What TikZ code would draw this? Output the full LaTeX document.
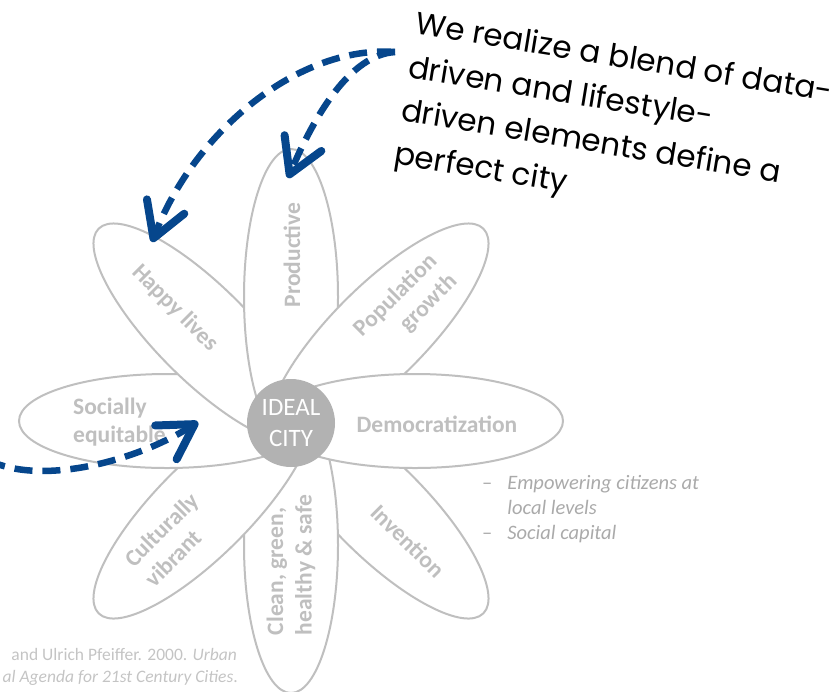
\documentclass[tikz,border=0pt]{standalone}
\usepackage{fontspec}
\setmainfont{Carlito}
\newfontfamily\handfont{Poppins}
\usetikzlibrary{shapes.geometric,arrows.meta}
\definecolor{petalgray}{RGB}{191,191,191}
\definecolor{citygray}{RGB}{178,178,178}
\definecolor{notegray}{RGB}{170,170,170}
\definecolor{citegray}{RGB}{196,196,196}
\definecolor{arrowblue}{RGB}{6,70,140}
\begin{document}
\begin{tikzpicture}[x=1pt,y=-1pt,
  petal/.style={ellipse, draw=petalgray, line width=2pt, fill=white,
    minimum width=296pt, minimum height=94pt, inner sep=0pt},
  ptext/.style={text=petalgray, font=\bfseries\fontsize{23.5}{28.5}\selectfont, inner sep=0pt},
  blueflow/.style={draw=arrowblue, line width=6.5pt, dash pattern=on 18pt off 10pt,
    -{Straight Barb[length=34pt,width=40pt,line width=8pt,round]}}
]
\useasboundingbox (0,0) rectangle (834,691);
\clip (0,0) rectangle (834,691);
% petals, bottom to top
\node[petal, rotate=-45] (invention) at (378.7,508.7) {};
\node[petal, rotate=90]  (clean)     at (291,545) {};
\node[petal, rotate=45]  (cultural)  at (203.3,508.7) {};
\node[petal]             (social)    at (167,421) {};
\node[petal, rotate=-45] (happy)     at (203.3,333.3) {};
\node[petal, rotate=90]  (productive) at (291,297) {};
\node[petal, rotate=45]  (population) at (378.7,333.3) {};
\node[petal]             (democ)     at (415,421) {};
% centre
\node[circle, fill=citygray, minimum size=88pt, inner sep=0pt, text=white,
  align=center, font=\fontsize{25}{31}\selectfont] (city) at (291,423) {IDEAL\\CITY};
% petal texts
\node[ptext, rotate=90] (tprod) at (292,255) {Productive};
\node[ptext, rotate=90, align=left] (tclean) at (291,565) {Clean, green,\\healthy \& safe};
\node[ptext] (tdemo) at (437,424) {Democratization};
\node[ptext, anchor=west, align=left] (tsoc) at (73,422) {Socially\\equitable};
\node[ptext, rotate=-45] (thappy) at (175,308) {Happy lives};
\node[ptext, rotate=45, align=right] (tpop) at (406,306) {Population\\growth};
\node[ptext, rotate=45, align=left] (tcult) at (171.6,539.6) {Culturally\\vibrant};
\node[ptext, rotate=-45] (tinv) at (408,541) {Invention};
% notes
\node[anchor=base west, inner sep=0pt, text=notegray,
  font=\itshape\fontsize{20.5}{25}\selectfont] (notes) at (482,489)
  {\begin{tabular}[t]{@{}l@{\hspace{15pt}}l@{}}
   \upshape\textendash & Empowering citizens at\\
   & local levels\\
   \upshape\textendash & Social capital
   \end{tabular}};
% citation
\node[anchor=base east, inner sep=0pt, text=citegray, font=\fontsize{17.5}{21}\selectfont]
  (cite1) at (237,660) {and Ulrich Pfeiffer. 2000. \textit{Urban}};
\node[anchor=base east, inner sep=0pt, text=citegray, font=\fontsize{17.5}{21}\selectfont]
  (cite2) at (238,682) {\textit{al Agenda for 21st Century Cities}.};
% handwritten remark
\node[anchor=north west, rotate=-9.3, inner sep=0pt, align=left, text=black,
  font=\handfont\fontsize{31}{44}\selectfont] (remark) at (418,10)
  {We realize a blend of data-\\driven and lifestyle-\\driven elements define a\\perfect city};
% arrows
\coordinate (src) at (395,52);
\coordinate (offleft) at (-12,460);
\coordinate (tipHappy) at (152,242);
\coordinate (tipProd) at (288,178);
\coordinate (tipSocial) at (198,422);
\draw[blueflow] (src) .. controls (300,45) and (195,130) .. (tipHappy);
\draw[blueflow] (src) .. controls (350,55) and (315,115) .. (tipProd);
\draw[blueflow] (offleft) .. controls (40,486) and (135,462) .. (tipSocial);
\end{tikzpicture}
\end{document}
